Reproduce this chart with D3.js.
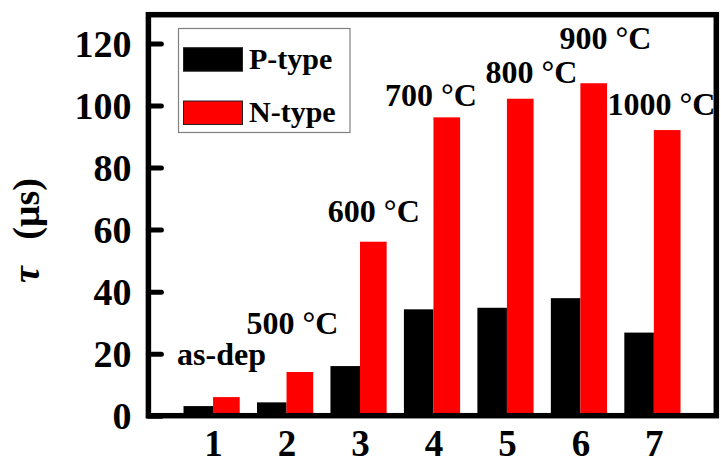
<!DOCTYPE html>
<html><head><meta charset="utf-8">
<script src="https://cdn.jsdelivr.net/npm/d3@7"></script>
<style>
html,body{margin:0;padding:0;background:#fff;}
text{font-family:"Liberation Serif","Times New Roman",serif;font-weight:bold;fill:#000;}
</style></head>
<body>
<svg id="chart" width="721" height="464"></svg>
<script>
// ---- data ----
const categories = [1, 2, 3, 4, 5, 6, 7];
const pType = [3.1, 4.3, 16.0, 34.3, 34.8, 37.9, 26.8];
const nType = [6.0, 14.1, 56.1, 96.2, 102.2, 107.2, 92.1];
const yTicks = [0, 20, 40, 60, 80, 100, 120];
const seriesNames = ["P-type", "N-type"];
const seriesColors = ["#000000", "#ff0000"];
const annotations = ["as-dep", "500 °C", "600 °C", "700 °C", "800 °C", "900 °C", "1000 °C"];
const annotX = [1.115, 2.081, 3.188, 3.966, 5.334, 6.342, 7.104];
const annotY = [16.35, 26.4, 62.6, 99.9, 107.3, 118.3, 97.0];

// ---- layout ----
const svg = d3.select("#chart");
const L = 148.4, R = 716.3, T = 14.7, B = 415.7;
const x = d3.scaleLinear().domain([0.12, 7.85]).range([L, R]);
const y = d3.scaleLinear().domain([0, 129.3]).range([B, T]);
const step = x(2) - x(1);
const wP = step * 0.402, wN = step * 0.363;

// bars
const g = svg.append("g");
g.selectAll("rect.p").data(categories).enter().append("rect")
  .attr("class", "p")
  .attr("x", (d) => x(d) - wP).attr("width", wP)
  .attr("y", (d, i) => y(pType[i])).attr("height", (d, i) => y(0) - y(pType[i]))
  .attr("fill", seriesColors[0]);
g.selectAll("rect.n").data(categories).enter().append("rect")
  .attr("class", "n")
  .attr("x", (d) => x(d)).attr("width", wN)
  .attr("y", (d, i) => y(nType[i])).attr("height", (d, i) => y(0) - y(nType[i]))
  .attr("fill", seriesColors[1]);

// frame
svg.append("rect").attr("x", L).attr("y", T).attr("width", R - L).attr("height", B - T)
  .attr("fill", "none").attr("stroke", "#000").attr("stroke-width", 5.5);

// y axis ticks (inward) & labels
const yAxis = d3.axisLeft(y).tickValues(yTicks).tickSize(-13).tickPadding(17);
const ya = svg.append("g").attr("transform", `translate(${L},0)`).call(yAxis);
ya.select(".domain").remove();
ya.selectAll(".tick line").attr("stroke", "#000").attr("stroke-width", 5).attr("stroke-linecap", "round");
ya.selectAll(".tick text").attr("font-size", 38).attr("fill", "#000")
  .attr("font-family", "Liberation Serif").attr("font-weight", "bold").attr("dy", "0.34em");

// x axis labels
const xAxis = d3.axisBottom(x).tickValues(categories).tickSize(0).tickPadding(14).tickFormat(d3.format("d"));
const xa = svg.append("g").attr("transform", `translate(0,${B})`).call(xAxis);
xa.select(".domain").remove();
xa.selectAll(".tick text").attr("font-size", 37).attr("fill", "#000")
  .attr("font-family", "Liberation Serif").attr("font-weight", "bold").attr("dy", "0.71em");

// annotations
svg.append("g").selectAll("text").data(annotations).enter().append("text")
  .attr("x", (d, i) => x(annotX[i])).attr("y", (d, i) => y(annotY[i]))
  .attr("text-anchor", "middle").attr("font-size", 32).text((d) => d);

// y title
const yt = svg.append("text").attr("transform", "translate(39,283) rotate(-90)")
  .attr("font-size", 38).attr("text-anchor", "start");
yt.append("tspan").attr("font-style", "italic").text("τ");
yt.append("tspan").attr("dx", 17).text(" (μs)");

// legend
const lg = svg.append("g");
lg.append("rect").attr("x", 178.5).attr("y", 28.5).attr("width", 171.5).attr("height", 104)
  .attr("fill", "#fff").attr("stroke", "#808080").attr("stroke-width", 1.2);
const legY = [47.7, 101];
seriesNames.forEach((s, i) => {
  lg.append("rect").attr("x", 183.5).attr("y", legY[i]).attr("width", 59).attr("height", 23.5)
    .attr("fill", seriesColors[i]).attr("stroke", "#222").attr("stroke-width", 1);
  lg.append("text").attr("x", 249).attr("y", legY[i] + 21).attr("font-size", 30).text(s);
});
</script>
</body></html>
